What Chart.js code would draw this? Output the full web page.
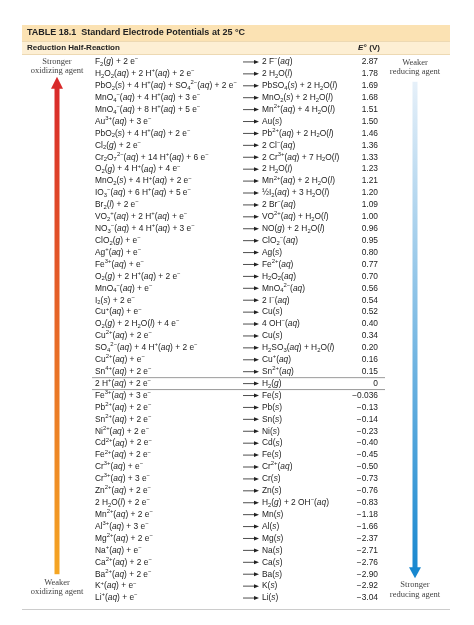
<!DOCTYPE html>
<html><head><meta charset="utf-8">
<script src="https://cdn.jsdelivr.net/npm/chart.js@4/dist/chart.umd.min.js"></script>
<style>html,body{margin:0;padding:0;background:#fff}#w{width:474px;height:625px}</style>
</head><body><div id="w"><canvas id="c"></canvas></div>
<script>
const reactants = [
"F_2(g) + 2 e^−","H_2O_2(aq) + 2 H^+(aq) + 2 e^−","PbO_2(s) + 4 H^+(aq) + SO_4^2−(aq) + 2 e^−",
"MnO_4^−(aq) + 4 H^+(aq) + 3 e^−","MnO_4^−(aq) + 8 H^+(aq) + 5 e^−","Au^3+(aq) + 3 e^−",
"PbO_2(s) + 4 H^+(aq) + 2 e^−","Cl_2(g) + 2 e^−","Cr_2O_7^2−(aq) + 14 H^+(aq) + 6 e^−",
"O_2(g) + 4 H^+(aq) + 4 e^−","MnO_2(s) + 4 H^+(aq) + 2 e^−","IO_3^−(aq) + 6 H^+(aq) + 5 e^−",
"Br_2(l) + 2 e^−","VO_2^+(aq) + 2 H^+(aq) + e^−","NO_3^−(aq) + 4 H^+(aq) + 3 e^−",
"ClO_2(g) + e^−","Ag^+(aq) + e^−","Fe^3+(aq) + e^−","O_2(g) + 2 H^+(aq) + 2 e^−",
"MnO_4^−(aq) + e^−","I_2(s) + 2 e^−","Cu^+(aq) + e^−","O_2(g) + 2 H_2O(l) + 4 e^−",
"Cu^2+(aq) + 2 e^−","SO_4^2−(aq) + 4 H^+(aq) + 2 e^−","Cu^2+(aq) + e^−","Sn^4+(aq) + 2 e^−",
"2 H^+(aq) + 2 e^−","Fe^3+(aq) + 3 e^−","Pb^2+(aq) + 2 e^−","Sn^2+(aq) + 2 e^−","Ni^2+(aq) + 2 e^−",
"Cd^2+(aq) + 2 e^−","Fe^2+(aq) + 2 e^−","Cr^3+(aq) + e^−","Cr^3+(aq) + 3 e^−","Zn^2+(aq) + 2 e^−",
"2 H_2O(l) + 2 e^−","Mn^2+(aq) + 2 e^−","Al^3+(aq) + 3 e^−","Mg^2+(aq) + 2 e^−","Na^+(aq) + e^−",
"Ca^2+(aq) + 2 e^−","Ba^2+(aq) + 2 e^−","K^+(aq) + e^−","Li^+(aq) + e^−"];
const products = [
"2 F^−(aq)","2 H_2O(l)","PbSO_4(s) + 2 H_2O(l)","MnO_2(s) + 2 H_2O(l)","Mn^2+(aq) + 4 H_2O(l)",
"Au(s)","Pb^2+(aq) + 2 H_2O(l)","2 Cl^−(aq)","2 Cr^3+(aq) + 7 H_2O(l)","2 H_2O(l)",
"Mn^2+(aq) + 2 H_2O(l)","½I_2(aq) + 3 H_2O(l)","2 Br^−(aq)","VO^2+(aq) + H_2O(l)","NO(g) + 2 H_2O(l)",
"ClO_2^−(aq)","Ag(s)","Fe^2+(aq)","H_2O_2(aq)","MnO_4^2−(aq)","2 I^−(aq)","Cu(s)","4 OH^−(aq)",
"Cu(s)","H_2SO_3(aq) + H_2O(l)","Cu^+(aq)","Sn^2+(aq)","H_2(g)","Fe(s)","Pb(s)","Sn(s)","Ni(s)",
"Cd(s)","Fe(s)","Cr^2+(aq)","Cr(s)","Zn(s)","H_2(g) + 2 OH^−(aq)","Mn(s)","Al(s)","Mg(s)","Na(s)",
"Ca(s)","Ba(s)","K(s)","Li(s)"];
const potentialLabels = ["2.87","1.78","1.69","1.68","1.51","1.50","1.46","1.36","1.33","1.23","1.21","1.20",
"1.09","1.00","0.96","0.95","0.80","0.77","0.70","0.56","0.54","0.52","0.40","0.34","0.20","0.16","0.15",
"0","−0.036","−0.13","−0.14","−0.23","−0.40","−0.45","−0.50","−0.73","−0.76","−0.83","−1.18","−1.66",
"−2.37","−2.71","−2.76","−2.90","−2.92","−3.04"];
const potentials = potentialLabels.map(s => parseFloat(s.replace('−','-')));
const rowIds = reactants.map((_, i) => i);

const FONT = '"Liberation Sans",Arial,sans-serif';
const FS = 8.4;
function tokens(s){
  const out=[]; let i=0, buf='';
  const flush=(st)=>{ if(buf){out.push({t:buf,s:st||'n'});buf='';} };
  while(i<s.length){
    const ch=s[i];
    if(ch==='_'){flush();let j=i+1;while(j<s.length&&/\d/.test(s[j]))j++;out.push({t:s.slice(i+1,j),s:'sub'});i=j;continue;}
    if(ch==='^'){flush();let j=i+1;while(j<s.length&&s[j]!=='('&&s[j]!==' ')j++;out.push({t:s.slice(i+1,j),s:'sup'});i=j;continue;}
    if(ch==='('){const m=s.slice(i).match(/^\((aq|s|l|g)\)/);if(m){flush();out.push({t:'(',s:'n'},{t:m[1],s:'it'},{t:')',s:'n'});i+=m[0].length;continue;}}
    buf+=ch;i++;
  }
  flush();return out;
}
function drawRich(ctx,s,x,y){
  for(const tk of tokens(s)){
    let f=FS+'px '+FONT, dy=0;
    if(tk.s==='sub'){f=(FS*0.7)+'px '+FONT;dy=2.3;}
    if(tk.s==='sup'){f=(FS*0.7)+'px '+FONT;dy=-3.2;}
    if(tk.s==='it'){f='italic '+FS+'px '+FONT;}
    ctx.font=f;ctx.fillText(tk.t,x,y+dy);x+=ctx.measureText(tk.t).width;
  }
}
const tablePlugin={id:'tbl',
  beforeDraw(chart){
    const ctx=chart.ctx;ctx.save();
    ctx.fillStyle='#fbe2b3';ctx.fillRect(22,25,428,16);
    ctx.fillStyle='#fdefd4';ctx.fillRect(22,42,428,12);
    ctx.strokeStyle='#e8cfa0';ctx.lineWidth=0.8;
    ctx.beginPath();ctx.moveTo(22,41.5);ctx.lineTo(450,41.5);ctx.moveTo(22,54.5);ctx.lineTo(450,54.5);ctx.stroke();
    ctx.fillStyle='#222';ctx.textBaseline='middle';
    ctx.font='bold 9px '+FONT;ctx.fillText('TABLE 18.1  Standard Electrode Potentials at 25 °C',27,33);
    ctx.font='bold 8px '+FONT;ctx.fillText('Reduction Half-Reaction',27,48);
    ctx.font='italic bold 8px '+FONT;ctx.fillText('E°',358,48);
    ctx.font='bold 8px '+FONT;ctx.fillText(' (V)',367,48);
    ctx.strokeStyle='#ccc';ctx.lineWidth=1;ctx.beginPath();ctx.moveTo(22,609.5);ctx.lineTo(450,609.5);ctx.stroke();
    ctx.restore();
  },
  afterDatasetsDraw(chart){
    const ctx=chart.ctx, ys=chart.scales.y;ctx.save();
    ctx.fillStyle='#222';ctx.textBaseline='middle';
    rowIds.forEach(i=>{
      const y=ys.getPixelForValue(i);
      ctx.textAlign='left';drawRich(ctx,reactants[i],95,y);
      ctx.strokeStyle='#222';ctx.lineWidth=0.8;ctx.beginPath();ctx.moveTo(243,y);ctx.lineTo(256,y);ctx.stroke();
      ctx.beginPath();ctx.moveTo(259,y);ctx.lineTo(254,y-2);ctx.lineTo(254,y+2);ctx.closePath();ctx.fill();
      drawRich(ctx,products[i],262,y);
      ctx.font=FS+'px '+FONT;ctx.textAlign='right';ctx.fillText(potentialLabels[i],378,y);
    });
    const h=rowIds.indexOf(27), step=ys.getPixelForValue(1)-ys.getPixelForValue(0);
    const hy=ys.getPixelForValue(h);
    ctx.strokeStyle='#555';ctx.lineWidth=0.6;ctx.beginPath();
    ctx.moveTo(92,hy-step/2);ctx.lineTo(385,hy-step/2);ctx.moveTo(92,hy+step/2);ctx.lineTo(385,hy+step/2);ctx.stroke();
    ctx.font='8.5px "Liberation Serif",serif';ctx.fillStyle='#444';ctx.textAlign='center';
    ctx.fillText('Stronger',57,62);ctx.fillText('oxidizing agent',57,71);
    ctx.fillText('Weaker',57,583);ctx.fillText('oxidizing agent',57,592);
    ctx.fillText('Weaker',415,63);ctx.fillText('reducing agent',415,72);
    ctx.fillText('Stronger',415,585);ctx.fillText('reducing agent',415,595);
    let top=ys.getPixelForValue(1)+5, bot=ys.getPixelForValue(43);
    let g=ctx.createLinearGradient(0,top,0,bot);g.addColorStop(0,'#d8282a');g.addColorStop(1,'#f5a623');
    ctx.fillStyle=g;ctx.fillRect(54.5,top+9,5,bot-top-9);
    ctx.beginPath();ctx.moveTo(57,top-2);ctx.lineTo(63,top+10);ctx.lineTo(51,top+10);ctx.closePath();ctx.fill();
    top=ys.getPixelForValue(2)-4; bot=ys.getPixelForValue(43)+2;
    g=ctx.createLinearGradient(0,top,0,bot);g.addColorStop(0,'#e6f0f9');g.addColorStop(1,'#1787cf');
    ctx.fillStyle=g;ctx.fillRect(412.5,top,5,bot-top-8);
    ctx.fillStyle='#1787cf';ctx.beginPath();ctx.moveTo(415,bot+2);ctx.lineTo(421,bot-9);ctx.lineTo(409,bot-9);ctx.closePath();ctx.fill();
    ctx.restore();
  }
};
new Chart(document.getElementById('c'),{
  type:'bar',
  data:{labels:rowIds,datasets:[{data:potentials,backgroundColor:'rgba(0,0,0,0)',borderWidth:0}]},
  options:{indexAxis:'y',responsive:true,maintainAspectRatio:false,animation:false,
    layout:{padding:{top:56,bottom:21,left:0,right:0}},
    plugins:{legend:{display:false},tooltip:{enabled:false}},
    scales:{y:{type:'category',offset:true,display:false},x:{display:false,min:-4,max:4}}},
  plugins:[tablePlugin]
});
</script></body></html>
